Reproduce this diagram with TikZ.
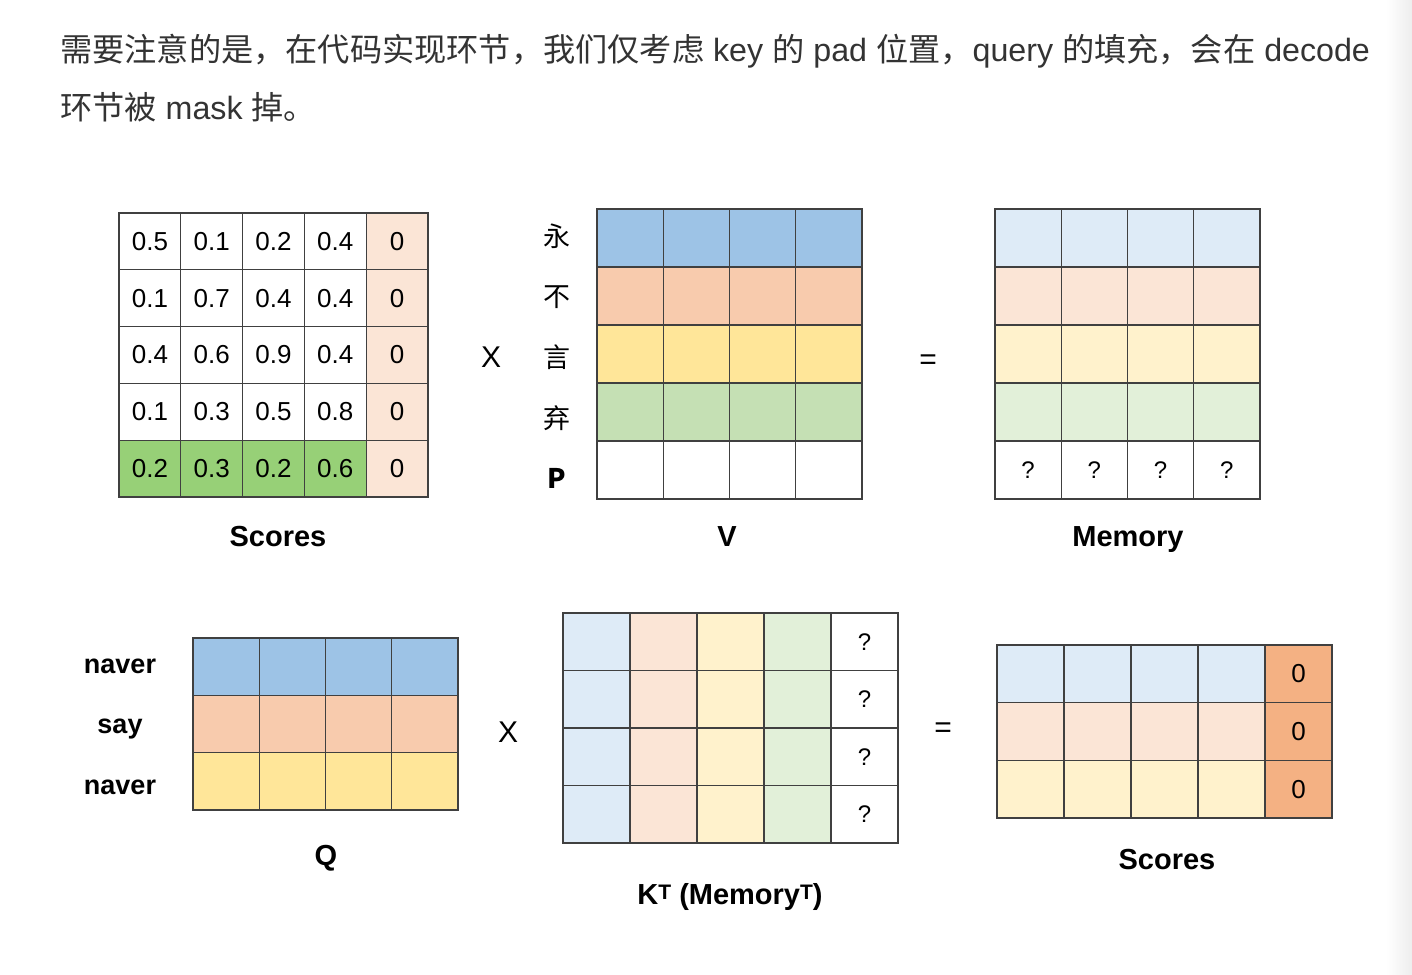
\documentclass[tikz,border=0pt]{standalone}
\usepackage{fontspec}
\setmainfont{Liberation Sans}
\newfontfamily\cjk{Noto Sans CJK SC}
\usepackage{xcolor}
\definecolor{gridline}{HTML}{404040}
\definecolor{bodytext}{HTML}{333333}
\definecolor{bluemid}{HTML}{9DC3E6}
\definecolor{peachmid}{HTML}{F8CBAD}
\definecolor{yellowmid}{HTML}{FFE699}
\definecolor{greenmid}{HTML}{C5E0B4}
\definecolor{greenscore}{HTML}{97D077}
\definecolor{bluelt}{HTML}{DEEBF7}
\definecolor{peachlt}{HTML}{FBE5D6}
\definecolor{yellowlt}{HTML}{FFF2CC}
\definecolor{greenlt}{HTML}{E2F0D9}
\definecolor{maskorange}{HTML}{F4B183}
\newcommand{\supT}{\raisebox{5pt}{\fontsize{21}{21}\selectfont T}}

\begin{document}
\begin{tikzpicture}[
  x=1pt, y=-1pt,
  cell/.style={draw=gridline, line width=1.3pt, inner sep=0pt, font=\fontsize{26}{30}\selectfont},
  qmark/.style={font=\fontsize{24}{28}\selectfont},
  title/.style={anchor=base, inner sep=0pt, font=\bfseries\fontsize{29}{32}\selectfont},
  rowlab/.style={anchor=base, inner sep=0pt, font=\bfseries\fontsize{27}{30}\selectfont},
  hanlab/.style={inner sep=0pt, font={\cjk\fontsize{27}{30}\selectfont}},
  op/.style={inner sep=0pt, font=\fontsize{30}{34}\selectfont},
  para/.style={anchor=base west, inner sep=0pt, text=bodytext, font=\fontsize{32.2}{40}\selectfont}
]
\useasboundingbox (0,0) rectangle (1412,974);
\fill[white] (0,0) rectangle (1412,974);
\shade[left color=white, right color=black!7] (1386,0) rectangle (1412,974);

% caption text
\node[para] (line1) at (60,62) {{\cjk 需要注意的是，在代码实现环节，我们仅考虑} key {\cjk 的} pad {\cjk 位置，}query {\cjk 的填充，会在} decode};
\node[para] (line2) at (60,119) {{\cjk 环节被} mask {\cjk 掉。}};

% Scores (top)
\foreach \row [count=\r] in {{0.5,0.1,0.2,0.4},{0.1,0.7,0.4,0.4},{0.4,0.6,0.9,0.4},{0.1,0.3,0.5,0.8},{0.2,0.3,0.2,0.6}}{
  \ifnum\r=5 \def\cf{greenscore}\else\def\cf{white}\fi
  \foreach \v [count=\c] in \row
    \node[cell, fill=\cf, minimum width=61.8, minimum height=56.8] (sc-\r-\c) at ({119+(\c-0.5)*61.8},{213+(\r-0.5)*56.8}) {\v};
  \node[cell, fill=peachlt, minimum width=61.8, minimum height=56.8] (sc-\r-5) at ({119+4.5*61.8},{213+(\r-0.5)*56.8}) {0};
}
\node[title] (sc-title) at (278,546) {Scores};
\node[op] (times1) at (491,357) {X};

% V
\foreach \col/\lab [count=\r] in {bluemid/{\cjk 永}, peachmid/{\cjk 不}, yellowmid/{\cjk 言}, greenmid/{\cjk 弃}, white/{\bfseries P}}{
  \foreach \c in {1,...,4}
    \node[cell, fill=\col, minimum width=66.25, minimum height=58] (v-\r-\c) at ({597+(\c-0.5)*66.25},{209+(\r-0.5)*58}) {};
  \node[hanlab] (v-lab-\r) at (557,{236+(\r-1)*60.7}) {\lab};
}
\node[title] (v-title) at (727,546) {V};
\node[op] (eq1) at (928,362) {=};

% Memory
\foreach \col [count=\r] in {bluelt, peachlt, yellowlt, greenlt}{
  \foreach \c in {1,...,4}
    \node[cell, fill=\col, minimum width=66.25, minimum height=58] (m-\r-\c) at ({995+(\c-0.5)*66.25},{209+(\r-0.5)*58}) {};
}
\foreach \c in {1,...,4}
  \node[cell, qmark, fill=white, minimum width=66.25, minimum height=58] (m-5-\c) at ({995+(\c-0.5)*66.25},{209+4.5*58}) {?};
\node[title] (m-title) at (1128,546) {Memory};

% Q
\foreach \col/\lab/\base [count=\r] in {bluemid/naver/673, peachmid/say/733, yellowmid/naver/794}{
  \foreach \c in {1,...,4}
    \node[cell, fill=\col, minimum width=66.25, minimum height=57.3] (q-\r-\c) at ({193+(\c-0.5)*66.25},{638+(\r-0.5)*57.3}) {};
  \node[rowlab] (q-lab-\r) at (120,\base) {\lab};
}
\node[title] (q-title) at (326,865) {Q};
\node[op] (times2) at (508,732) {X};

% K transposed
\foreach \col [count=\c] in {bluelt, peachlt, yellowlt, greenlt}{
  \foreach \r in {1,...,4}
    \node[cell, fill=\col, minimum width=67, minimum height=57.5] (k-\r-\c) at ({563+(\c-0.5)*67},{613+(\r-0.5)*57.5}) {};
}
\foreach \r in {1,...,4}
  \node[cell, qmark, fill=white, minimum width=67, minimum height=57.5] (k-\r-5) at ({563+4.5*67},{613+(\r-0.5)*57.5}) {?};
\node[title] (k-title) at (730,904) {K\supT{} (Memory\supT)};
\node[op] (eq2) at (943,730) {=};

% Scores (bottom)
\foreach \col [count=\r] in {bluelt, peachlt, yellowlt}{
  \foreach \c in {1,...,4}
    \node[cell, fill=\col, minimum width=67, minimum height=57.7] (out-\r-\c) at ({997+(\c-0.5)*67},{645+(\r-0.5)*57.7}) {};
  \node[cell, fill=maskorange, minimum width=67, minimum height=57.7] (out-\r-5) at ({997+4.5*67},{645+(\r-0.5)*57.7}) {0};
}
\node[title] (out-title) at (1167,869) {Scores};
\end{tikzpicture}
\end{document}
